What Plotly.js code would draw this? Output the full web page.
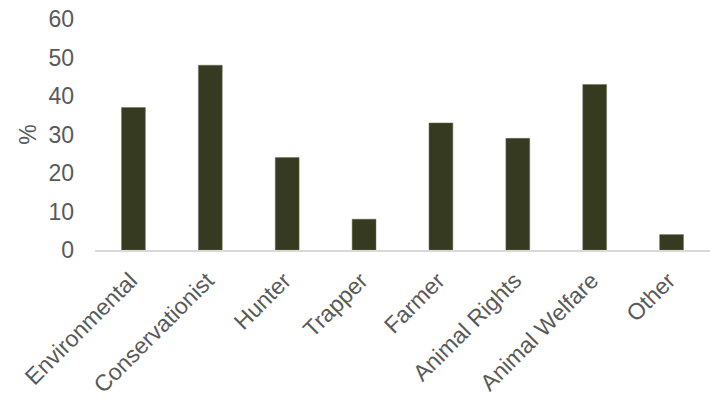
<!DOCTYPE html>
<html>
<head>
<meta charset="utf-8">
<script src="https://cdn.plot.ly/plotly-3.0.1.min.js"></script>
<style>html,body{margin:0;padding:0;background:#fff;}#chart{width:710px;height:401px;}</style>
</head>
<body>
<div id="chart"></div>
<script>
var categories = ["Environmental", "Conservationist", "Hunter", "Trapper", "Farmer", "Animal Rights", "Animal Welfare", "Other"];
var values = [37, 48, 24, 8, 33, 29, 43, 4];
var yTicks = [0, 10, 20, 30, 40, 50, 60];

var trace = {
  type: "bar",
  x: categories,
  y: values,
  marker: {color: "#363A20", line: {color: "#6b6f55", width: 0.5}},
  hoverinfo: "x+y"
};

var layout = {
  width: 710,
  height: 401,
  margin: {l: 95, r: 0, t: 19, b: 151},
  paper_bgcolor: "#ffffff",
  plot_bgcolor: "#ffffff",
  bargap: 0.69,
  showlegend: false,
  font: {family: "Liberation Sans, Arial, sans-serif", color: "#595959", size: 23},
  xaxis: {
    type: "category",
    tickangle: -45,
    showgrid: false,
    showline: true,
    linecolor: "#d9d9d9",
    linewidth: 2,
    ticks: "",
    ticklabelstandoff: 6,
    ticklabelshift: -3,
    tickfont: {size: 23, color: "#595959"},
    zeroline: false
  },
  yaxis: {
    range: [0, 60],
    tickvals: yTicks,
    ticktext: yTicks.map(String),
    showgrid: false,
    zeroline: false,
    showline: false,
    ticks: "",
    ticklabelstandoff: 20,
    tickfont: {size: 23, color: "#595959"},
    title: {text: "%", font: {size: 23, color: "#595959"}, standoff: 5}
  }
};

Plotly.newPlot("chart", [trace], layout, {displayModeBar: false, staticPlot: true});
</script>
</body>
</html>
